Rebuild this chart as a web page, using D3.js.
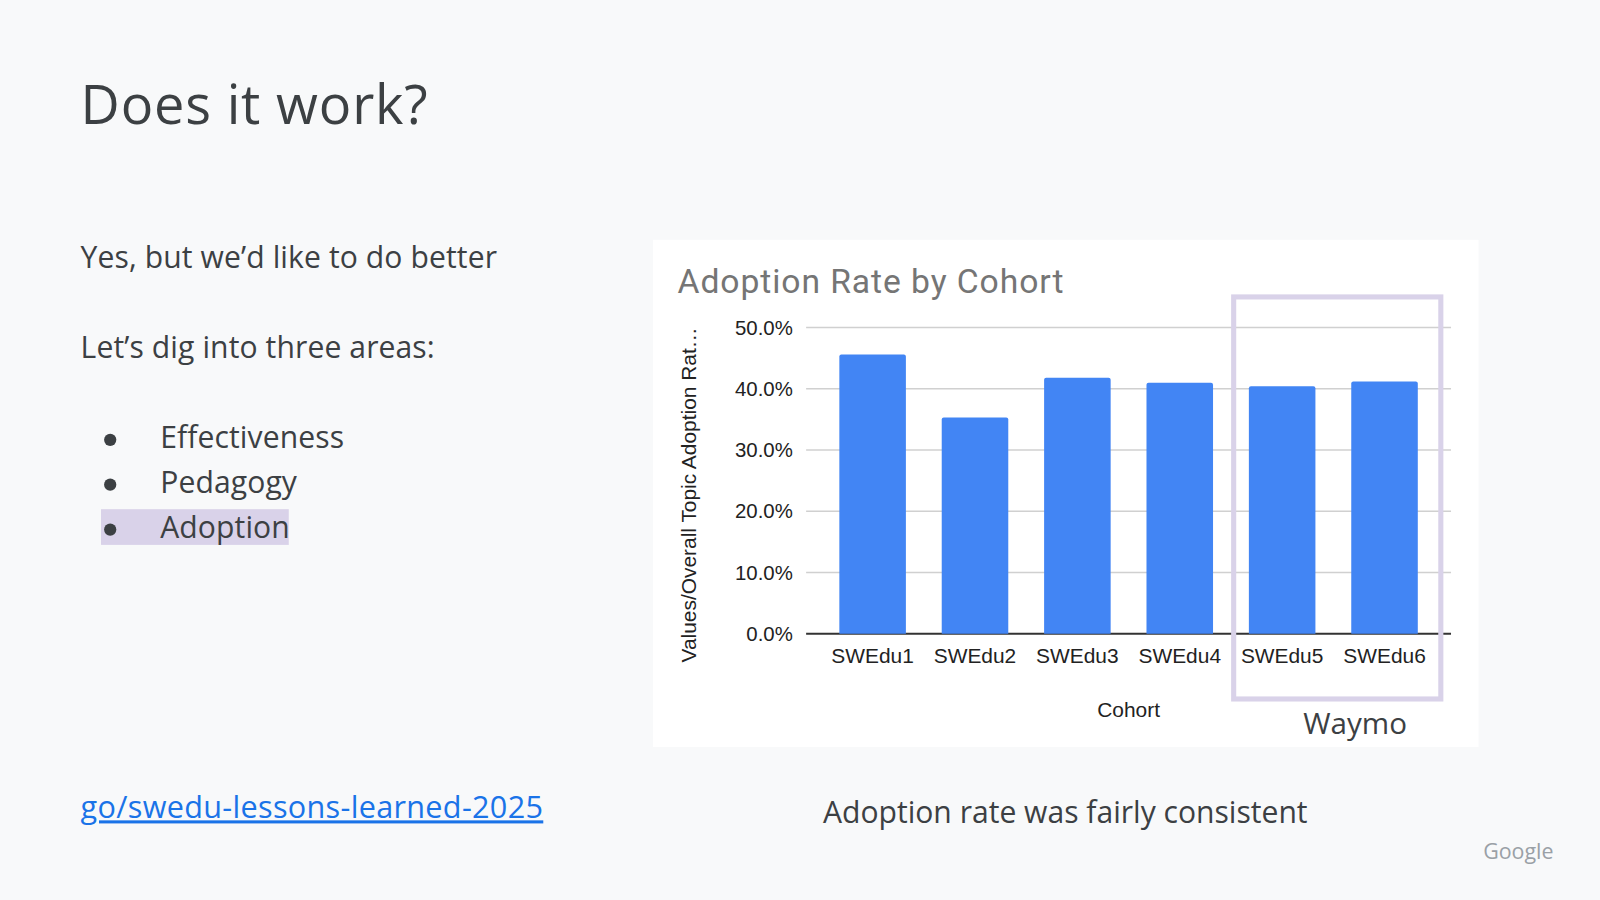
<!DOCTYPE html>
<html><head><meta charset="utf-8">
<script src="https://cdn.jsdelivr.net/npm/d3@7"></script>
<style>body{margin:0;background:#f8f9fa}svg{display:block}</style></head>
<body><svg id="c" width="1600" height="900" viewBox="0 0 1568 882"></svg>
<script>
const categories=["SWEdu1","SWEdu2","SWEdu3","SWEdu4","SWEdu5","SWEdu6"];
const values=[0.456,0.353,0.418,0.410,0.404,0.412];
const yTicks=[0,0.1,0.2,0.3,0.4,0.5];
const bullets=["Effectiveness","Pedagogy","Adoption"];

const svg=d3.select("#c");
const F="'Google Sans','Open Sans',Roboto,sans-serif";
svg.append("rect").attr("width",1568).attr("height",882).attr("fill","#f8f9fa");
svg.append("text").attr("x",79).attr("y",122).attr("font-family",F).attr("font-size",53).attr("letter-spacing",0.8).attr("fill","#3c4043").text("Does it work?");
const body=(x,y,t)=>svg.append("text").attr("x",x).attr("y",y).attr("font-family",F).attr("font-size",29.5).attr("letter-spacing",0.1).attr("fill","#3c4043").text(t);
body(79,263,"Yes, but we’d like to do better");
body(79,351,"Let’s dig into three areas:");
svg.append("rect").attr("x",99).attr("y",499).attr("width",184).attr("height",35).attr("fill","#d9d2e9");
bullets.forEach((b,i)=>{const y=439+i*44;
 svg.append("circle").attr("cx",108).attr("cy",y-8).attr("r",6).attr("fill","#3c4043");
 body(157,y,b);});
svg.append("text").attr("x",79).attr("y",802).attr("font-family",F).attr("font-size",30).attr("letter-spacing",0.3).attr("fill","#1a73e8").attr("text-decoration","underline").text("go/swedu-lessons-learned-2025");
svg.append("text").attr("x",1044).attr("y",807).attr("text-anchor","middle").attr("font-family",F).attr("font-size",29.5).attr("fill","#3c4043").text("Adoption rate was fairly consistent");
svg.append("text").attr("x",1488).attr("y",842).attr("text-anchor","middle").attr("font-family",F).attr("font-size",21).attr("fill","#9aa0a6").text("Google");

// chart
svg.append("rect").attr("x",640).attr("y",235).attr("width",809).attr("height",497).attr("fill","#fff");
svg.append("text").attr("x",664).attr("y",287).attr("font-family","Roboto,Arial,sans-serif").attr("font-size",33).attr("letter-spacing",0.9).attr("fill","#757575").text("Adoption Rate by Cohort");
const x=d3.scaleBand().domain(categories).range([805,1407]).paddingInner(0.35).paddingOuter(0.175);
const y=d3.scaleLinear().domain([0,0.5]).range([621,321]);
const A="Arial,'Liberation Sans',sans-serif";
yTicks.forEach(t=>{
 svg.append("line").attr("x1",790).attr("x2",1422).attr("y1",y(t)).attr("y2",y(t)).attr("stroke",t===0?"#333":"#d0d0d0").attr("stroke-width",t===0?2:1.5);
 svg.append("text").attr("x",777).attr("y",y(t)+7).attr("text-anchor","end").attr("font-family",A).attr("font-size",20).attr("fill","#222").text(d3.format(".1%")(t));
});
svg.selectAll(".b").data(values).enter().append("path").attr("fill","#4285f4")
 .attr("d",(d,i)=>{const x0=x(categories[i]),w=x.bandwidth(),y0=y(d),r=2;
  return `M${x0},${y(0)}V${y0+r}Q${x0},${y0} ${x0+r},${y0}H${x0+w-r}Q${x0+w},${y0} ${x0+w},${y0+r}V${y(0)}Z`;});
categories.forEach(c=>svg.append("text").attr("x",x(c)+x.bandwidth()/2).attr("y",650).attr("text-anchor","middle").attr("font-family",A).attr("font-size",20.5).attr("fill","#222").text(c));
svg.append("text").attr("transform","translate(682,485) rotate(-90)").attr("text-anchor","middle").attr("font-family",A).attr("font-size",20.5).attr("fill","#222").text("Values/Overall Topic Adoption Rat…");
svg.append("text").attr("x",1106).attr("y",703).attr("text-anchor","middle").attr("font-family",A).attr("font-size",20.5).attr("fill","#222").text("Cohort");
svg.append("rect").attr("x",1209).attr("y",291).attr("width",203).attr("height",394).attr("fill","none").attr("stroke","#d9d2e9").attr("stroke-width",5);
svg.append("text").attr("x",1328).attr("y",719).attr("text-anchor","middle").attr("font-family",F).attr("font-size",29).attr("fill","#3c4043").text("Waymo");
</script></body></html>
